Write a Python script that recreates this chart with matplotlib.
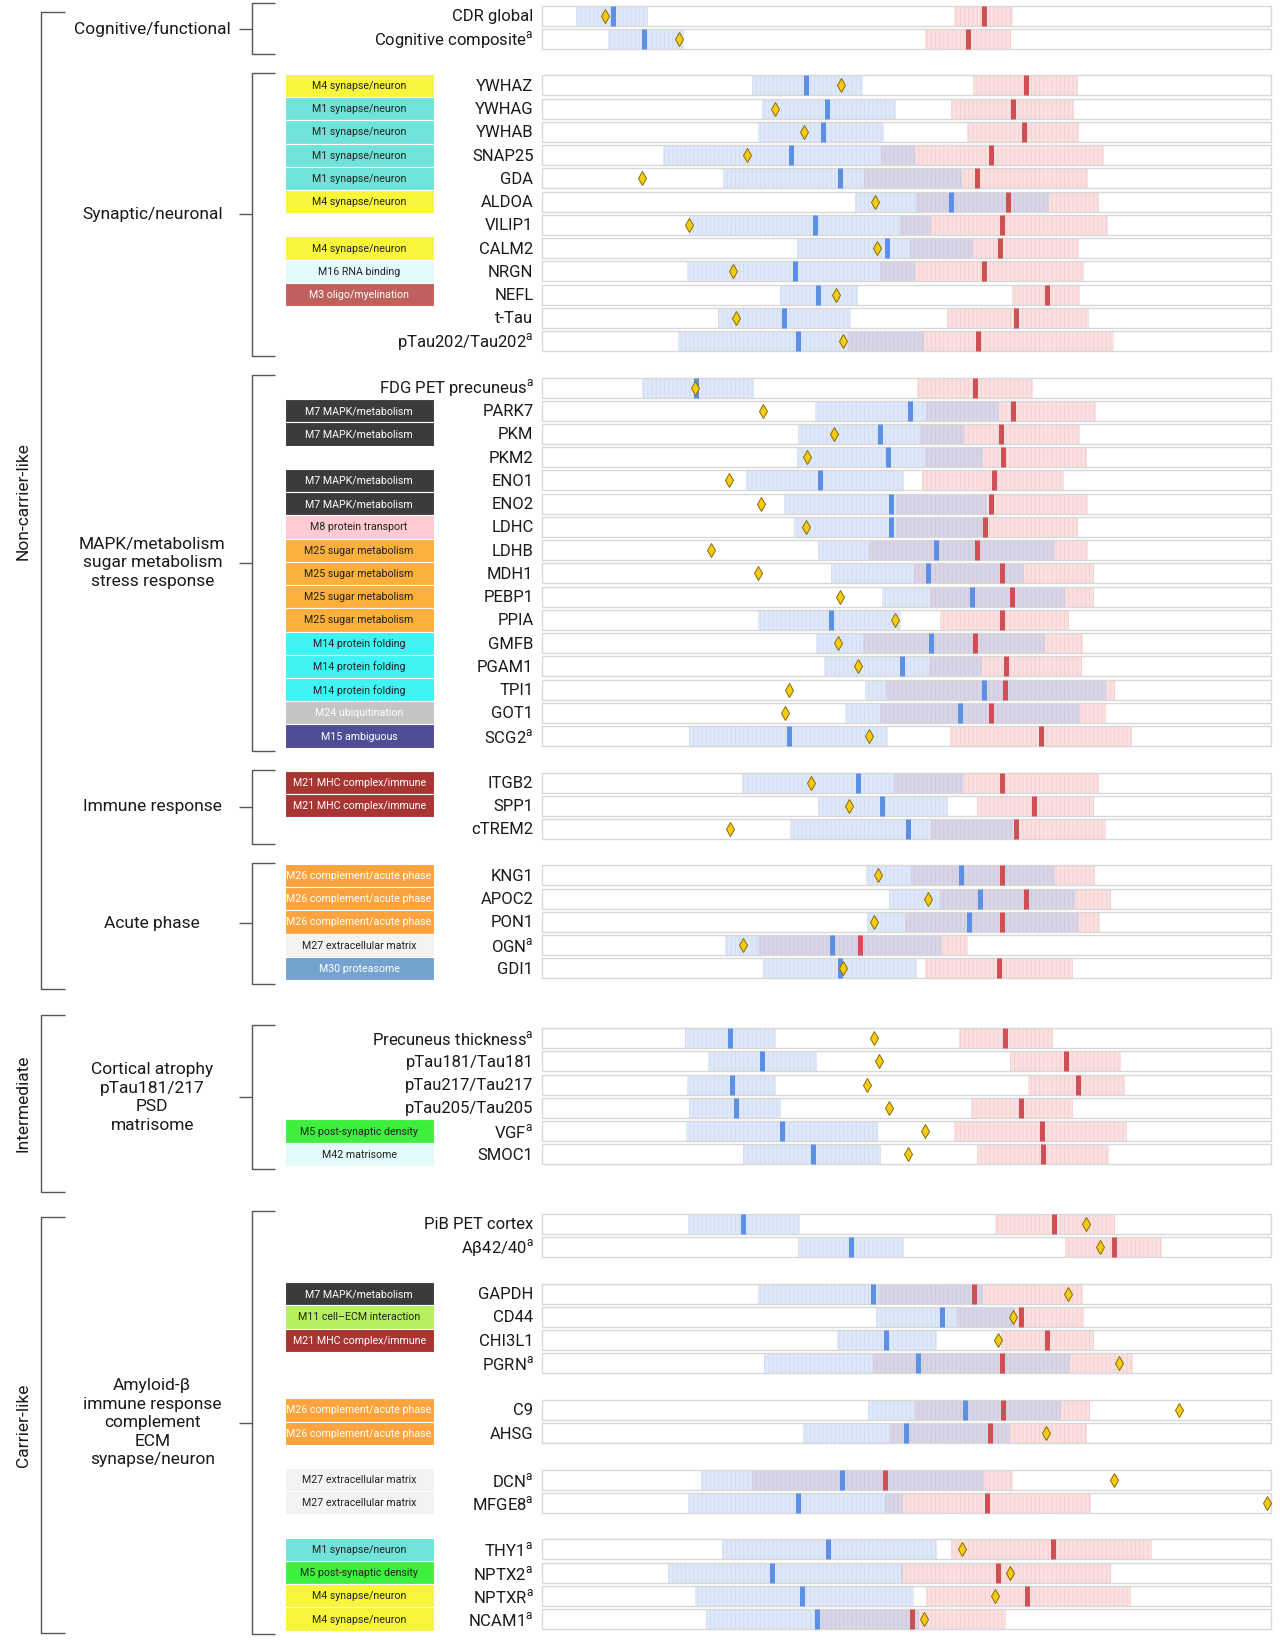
import matplotlib

matplotlib.use("Agg")

import matplotlib.pyplot as plt
from matplotlib.patches import Rectangle
import numpy as np

plt.rcParams['font.family'] = ['Roboto', 'DejaVu Sans']
plt.rcParams['mathtext.fontset'] = 'custom'
plt.rcParams['mathtext.rm'] = 'Roboto'
plt.rcParams['hatch.linewidth'] = 0.7

A = r'$^{\mathrm{a}}$'

# row labels in slot order (None = empty slot)
labels = [
    'CDR global', 'Cognitive composite' + A, None,
    'YWHAZ', 'YWHAG', 'YWHAB', 'SNAP25', 'GDA', 'ALDOA', 'VILIP1', 'CALM2', 'NRGN',
    'NEFL', 't-Tau', 'pTau202/Tau202' + A, None,
    'FDG PET precuneus' + A, 'PARK7', 'PKM', 'PKM2', 'ENO1', 'ENO2', 'LDHC', 'LDHB',
    'MDH1', 'PEBP1', 'PPIA', 'GMFB', 'PGAM1', 'TPI1', 'GOT1', 'SCG2' + A, None,
    'ITGB2', 'SPP1', 'cTREM2', None,
    'KNG1', 'APOC2', 'PON1', 'OGN' + A, 'GDI1', None, None,
    'Precuneus thickness' + A, 'pTau181/Tau181', 'pTau217/Tau217', 'pTau205/Tau205',
    'VGF' + A, 'SMOC1', None, None,
    'PiB PET cortex', 'Aβ42/40' + A, None,
    'GAPDH', 'CD44', 'CHI3L1', 'PGRN' + A, None,
    'C9', 'AHSG', None,
    'DCN' + A, 'MFGE8' + A, None,
    'THY1' + A, 'NPTX2' + A, 'NPTXR' + A, 'NCAM1' + A,
]

# module assignment for each non-empty row
modules = [
    None, None,
    'M4', 'M1', 'M1', 'M1', 'M1', 'M4', None, 'M4', 'M16', 'M3', None, None,
    None, 'M7', 'M7', None, 'M7', 'M7', 'M8', 'M25', 'M25', 'M25', 'M25',
    'M14', 'M14', 'M14', 'M24', 'M15',
    'M21', 'M21', None,
    'M26', 'M26', 'M26', 'M27', 'M30',
    None, None, None, None, 'M5', 'M42',
    None, None,
    'M7', 'M11', 'M21', None,
    'M26', 'M26',
    'M27', 'M27',
    'M1', 'M5', 'M4', 'M4',
]

module_names = {
    'M1': 'M1 synapse/neuron', 'M3': 'M3 oligo/myelination', 'M4': 'M4 synapse/neuron',
    'M5': 'M5 post-synaptic density', 'M7': 'M7 MAPK/metabolism', 'M8': 'M8 protein transport',
    'M11': 'M11 cell–ECM interaction', 'M14': 'M14 protein folding', 'M15': 'M15 ambiguous',
    'M16': 'M16 RNA binding', 'M21': 'M21 MHC complex/immune', 'M24': 'M24 ubiquitination',
    'M25': 'M25 sugar metabolism', 'M26': 'M26 complement/acute phase',
    'M27': 'M27 extracellular matrix', 'M30': 'M30 proteasome', 'M42': 'M42 matrisome',
}
module_colors = {
    'M1': '#6fe3d8', 'M3': '#c0605c', 'M4': '#f9f53b', 'M5': '#3ef03e', 'M7': '#3b3b3b',
    'M8': '#ffcad3', 'M11': '#b6f060', 'M14': '#3ff3f3', 'M15': '#4f4d96', 'M16': '#e3fbfb',
    'M21': '#a93533', 'M24': '#c4c4c4', 'M25': '#fbb03b', 'M26': '#fba43f', 'M27': '#f3f3f3',
    'M30': '#74a3cf', 'M42': '#e3fbfb',
}
white_text = {'M3', 'M7', 'M15', 'M21', 'M24', 'M26', 'M30'}

# interval estimates (track runs 516 .. 1210)
blue_lo = [549, 579, 716, 726, 722, 631, 689, 814, 656, 759, 654, 743, 684, 646,
           611, 776, 760, 759, 710, 747, 756, 779, 791, 840, 722, 777, 785, 824, 805, 656,
           707, 779, 752, 825, 847, 826, 690, 727,
           652, 674, 654, 656, 653, 708,
           655, 760, 722, 834, 797, 728, 827, 765, 668, 655, 688, 636, 662, 672]
blue_med = [584, 613, 768, 788, 784, 753, 800, 906, 776, 845, 757, 779, 747, 760,
            663, 867, 838, 846, 781, 849, 849, 891, 884, 926, 791, 887, 859, 937, 914, 751,
            817, 840, 865, 915, 933, 923, 792, 800,
            695, 726, 697, 701, 745, 774,
            708, 810, 831, 897, 844, 874, 919, 863, 802, 760, 789, 735, 764, 778]
blue_hi = [617, 651, 822, 853, 842, 871, 916, 999, 887, 927, 871, 817, 810, 880,
           718, 951, 918, 936, 861, 940, 936, 1005, 975, 1014, 858, 995, 935, 1053, 1029, 846,
           917, 903, 965, 1005, 1024, 1028, 897, 873,
           739, 778, 739, 744, 836, 839,
           762, 861, 936, 967, 892, 1019, 1010, 962, 937, 860, 892, 860, 870, 875]
red_lo = [909, 881, 927, 906, 921, 839, 823, 872, 857, 867, 838, 964, 902, 808,
          873, 882, 876, 881, 878, 853, 853, 828, 870, 886, 895, 822, 885, 844, 838, 905,
          851, 930, 887, 868, 895, 862, 722, 881,
          913, 962, 979, 925, 909, 930,
          948, 1014, 836, 911, 953, 831, 871, 848, 716, 843, 906, 858, 882, 780]
red_med = [937, 922, 977, 965, 975, 944, 930, 960, 954, 952, 937, 997, 968, 931,
           929, 965, 953, 955, 947, 944, 938, 930, 954, 964, 954, 929, 958, 957, 944, 991,
           954, 985, 968, 954, 977, 954, 819, 951,
           957, 1015, 1027, 972, 992, 993,
           1004, 1061, 928, 972, 997, 954, 955, 943, 843, 940, 1003, 950, 978, 869]
red_hi = [965, 963, 1027, 1023, 1028, 1051, 1036, 1047, 1055, 1028, 1032, 1029, 1037, 1061,
          984, 1044, 1029, 1035, 1013, 1036, 1027, 1036, 1042, 1042, 1018, 1031, 1030, 1062, 1053, 1078,
          1047, 1042, 1053, 1043, 1058, 1048, 922, 1022,
          1003, 1068, 1071, 1022, 1073, 1056,
          1062, 1107, 1031, 1032, 1042, 1079, 1038, 1035, 965, 1039, 1097, 1058, 1077, 958]
diamond = [576, 647, 801, 738, 766, 711, 611, 833, 656, 835, 698, 796, 701, 803,
           662, 727, 794, 769, 694, 725, 768, 677, 722, 800, 852, 798, 817, 751, 748, 828,
           772, 809, 695, 836, 884, 832, 708, 803,
           832, 837, 826, 847, 881, 865,
           1034, 1048, 1017, 965, 950, 1066, 1123, 996, 1061, 1207, 916, 962, 948, 880]

group_names = ['Cognitive/functional', 'Synaptic/neuronal',
               'MAPK/metabolism\nsugar metabolism\nstress response', 'Immune response',
               'Acute phase', 'Cortical atrophy\npTau181/217\nPSD\nmatrisome',
               'Amyloid-β\nimmune response\ncomplement\nECM\nsynapse/neuron']
group_sizes = [2, 12, 16, 3, 5, 6, 14]
class_names = ['Non-carrier-like', 'Intermediate', 'Carrier-like']
class_spans = [(-0.15, 41.9), (43.0, 50.6), (51.7, 69.6)]

slots = np.array([i for i, l in enumerate(labels) if l is not None], dtype=float)
names = [l for l in labels if l is not None]
blue_lo, blue_med, blue_hi = map(np.array, (blue_lo, blue_med, blue_hi))
red_lo, red_med, red_hi = map(np.array, (red_lo, red_med, red_hi))

fig = plt.figure(figsize=(12.8, 16.46), dpi=100)
ax = fig.add_axes([0, 0, 1, 1])
ax.set_xlim(0, 1219)
ax.set_ylim(70.16, -0.678)
ax.axis('off')

h = 0.86
track_l, track_r = 516, 1210

# tracks
for s in slots:
    ax.add_patch(Rectangle((track_l, s - h / 2), track_r - track_l, h, fc='white', ec='none', zorder=1))

ov_lo = np.maximum(blue_lo, red_lo)
ov_hi = np.minimum(blue_hi, red_hi)
ax.barh(slots, blue_hi - blue_lo, left=blue_lo, height=h, color='#dfe8f9', edgecolor='#cfdcf4',
        hatch='||||', linewidth=0, zorder=2)
ax.barh(slots, red_hi - red_lo, left=red_lo, height=h, color='#fbe0e0', edgecolor='#f3cfd0',
        hatch='||||', linewidth=0, zorder=2)
ov = ov_hi > ov_lo
ax.barh(slots[ov], (ov_hi - ov_lo)[ov], left=ov_lo[ov], height=h, color='#dad5e6',
        edgecolor='#cec8de', hatch='||||', linewidth=0, zorder=3)

for s in slots:
    ax.add_patch(Rectangle((track_l, s - h / 2), track_r - track_l, h, fc='none', ec='#d8d8d8',
                           lw=1.0, zorder=4))

ax.vlines(blue_med, slots - h / 2, slots + h / 2, color='#5c90e4', lw=3.6, zorder=5)
ax.vlines(red_med, slots - h / 2, slots + h / 2, color='#cf4f55', lw=3.6, zorder=5)
ax.plot(diamond, slots, linestyle='none', marker='d', ms=7.6, mfc='#f5cb17', mec='#8a6c00',
        mew=0.7, zorder=6, clip_on=False)

# row labels and module boxes
for s, name, m in zip(slots, names, modules):
    ax.text(508, s + 0.04, name, ha='right', va='center', fontsize=12, color='#1a1a1a')
    if m is not None:
        ax.add_patch(Rectangle((271, s - 0.5), 142, 1.0, fc=module_colors[m], ec='white', lw=0.8))
        ax.text(342, s + 0.02, module_names[m], ha='center', va='center', fontsize=7.7,
                color='white' if m in white_text else '#222222')

# inner brackets with group labels
bk = dict(color='#555555', lw=1.0, solid_capstyle='butt')
start = 0
for gname, n in zip(group_names, group_sizes):
    top = slots[start] - 0.55
    bot = slots[start + n - 1] + 0.65
    mid = (top + bot) / 2
    ax.plot([262, 240, 240, 262], [top, top, bot, bot], **bk)
    ax.plot([228, 240], [mid, mid], **bk)
    ax.text(145, mid, gname, ha='center', va='center', fontsize=12.5, linespacing=1.3,
            color='#1a1a1a')
    start += n

# outer brackets with class labels
for cname, (top, bot) in zip(class_names, class_spans):
    ax.plot([62, 39, 39, 62], [top, top, bot, bot], **bk)
    ax.text(22, (top + bot) / 2, cname, rotation=90, ha='center', va='center', fontsize=12.5,
            color='#1a1a1a')

plt.savefig('out.png', dpi=100)
